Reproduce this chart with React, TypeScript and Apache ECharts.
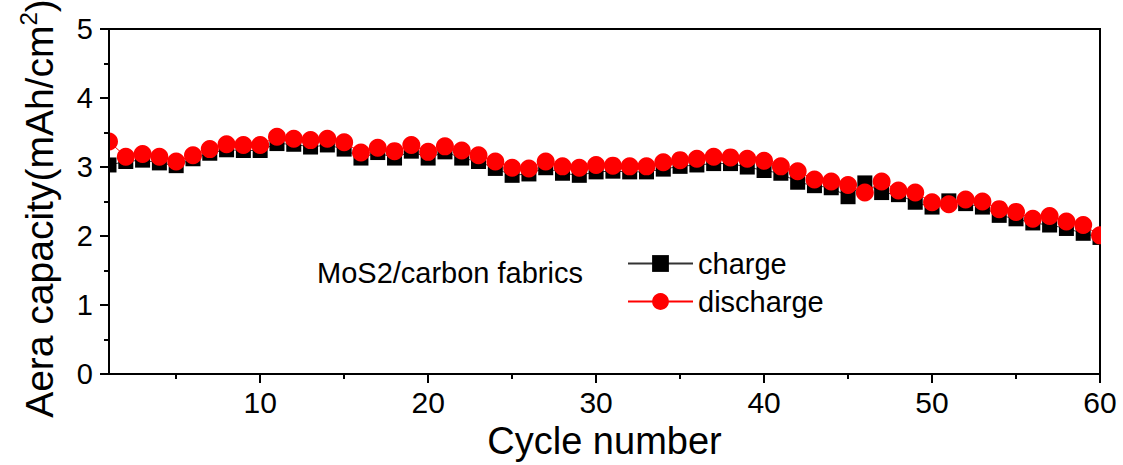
import React, { useEffect, useRef } from "react";
import * as echarts from "echarts";

const cycles = [
  1, 2, 3, 4, 5, 6, 7, 8, 9, 10,
  11, 12, 13, 14, 15, 16, 17, 18, 19, 20,
  21, 22, 23, 24, 25, 26, 27, 28, 29, 30,
  31, 32, 33, 34, 35, 36, 37, 38, 39, 40,
  41, 42, 43, 44, 45, 46, 47, 48, 49, 50,
  51, 52, 53, 54, 55, 56, 57, 58, 59, 60,
];

const charge = [
  3.03, 3.08, 3.10, 3.06, 3.02, 3.12, 3.20, 3.25, 3.24, 3.24,
  3.34, 3.33, 3.29, 3.32, 3.26, 3.13, 3.21, 3.13, 3.23, 3.13,
  3.22, 3.13, 3.08, 2.98, 2.88, 2.90, 2.99, 2.91, 2.88, 2.93,
  2.94, 2.93, 2.93, 2.97, 3.01, 3.03, 3.05, 3.05, 3.00, 2.95,
  2.91, 2.78, 2.73, 2.70, 2.57, 2.77, 2.63, 2.60, 2.49, 2.42,
  2.51, 2.47, 2.42, 2.30, 2.25, 2.19, 2.16, 2.11, 2.04, 1.98,
];

const discharge = [
  3.37, 3.15, 3.19, 3.15, 3.08, 3.17, 3.26, 3.33, 3.32, 3.32,
  3.44, 3.41, 3.39, 3.41, 3.36, 3.21, 3.28, 3.23, 3.32, 3.22,
  3.30, 3.24, 3.17, 3.08, 2.99, 2.98, 3.08, 3.01, 2.99, 3.03,
  3.02, 3.01, 3.01, 3.07, 3.10, 3.12, 3.15, 3.14, 3.12, 3.09,
  3.01, 2.94, 2.82, 2.79, 2.74, 2.63, 2.79, 2.66, 2.63, 2.49,
  2.46, 2.53, 2.50, 2.39, 2.35, 2.25, 2.29, 2.21, 2.16, 2.01,
];

const xMajorTicks = [10, 20, 30, 40, 50, 60];
const xMinorTicks = [5, 15, 25, 35, 45, 55];
const seriesNames = ["charge", "discharge"];
const sampleLabel = "MoS2/carbon fabrics";

const FONT = '"Liberation Sans", Arial, sans-serif';

export default function App() {
  const ref = useRef<HTMLDivElement>(null);

  useEffect(() => {
    const chart = echarts.init(ref.current!, null, { renderer: "svg" });
    const chargeData = cycles.map((c, i) => [c, charge[i]]);
    const dischargeData = cycles.map((c, i) => [c, discharge[i]]);

    chart.setOption({
      animation: false,
      backgroundColor: "#fff",
      textStyle: { fontFamily: FONT },
      grid: {
        left: 109,
        right: 23,
        top: 29,
        bottom: 79,
        show: true,
        borderColor: "#000",
        borderWidth: 2,
        backgroundColor: "transparent",
      },
      legend: {
        orient: "vertical",
        left: 622,
        top: 244,
        itemWidth: 65,
        itemHeight: 21,
        itemGap: 9,
        data: seriesNames,
        textStyle: { fontSize: 29, color: "#000", fontFamily: FONT },
      },
      xAxis: [
        {
          type: "value",
          min: 1,
          max: 60,
          position: "bottom",
          z: 10,
          axisLine: { show: true, lineStyle: { color: "#000", width: 2 } },
          axisTick: {
            show: true,
            customValues: xMajorTicks,
            length: 9,
            lineStyle: { color: "#000", width: 2 },
          },
          axisLabel: {
            customValues: xMajorTicks,
            fontSize: 30,
            color: "#000",
            margin: 13,
            fontFamily: FONT,
          },
          splitLine: { show: false },
          name: "Cycle number",
          nameLocation: "middle",
          nameGap: 40,
          nameTextStyle: { fontSize: 38, color: "#000", fontFamily: FONT },
        },
        {
          type: "value",
          min: 1,
          max: 60,
          position: "bottom",
          z: 10,
          axisLine: { show: false },
          axisTick: {
            show: true,
            customValues: xMinorTicks,
            length: 5,
            lineStyle: { color: "#000", width: 2 },
          },
          axisLabel: { show: false },
          splitLine: { show: false },
        },
      ],
      yAxis: {
        type: "value",
        min: 0,
        max: 5,
        interval: 1,
        z: 10,
        axisLine: { show: true, lineStyle: { color: "#000", width: 2 } },
        axisTick: { show: true, length: 9, lineStyle: { color: "#000", width: 2 } },
        minorTick: {
          show: true,
          splitNumber: 2,
          length: 5,
          lineStyle: { color: "#000", width: 2 },
        },
        axisLabel: { fontSize: 29, color: "#000", margin: 16, fontFamily: FONT },
        splitLine: { show: false },
        minorSplitLine: { show: false },
        name: "{a|Aera capacity(mAh/cm}{s|2}{a|)}",
        nameLocation: "middle",
        nameGap: 46,
        nameRotate: 90,
        nameTextStyle: {
          color: "#000",
          padding: [0, 14, 0, 0],
          rich: {
            a: { fontSize: 39, lineHeight: 47, color: "#000", fontFamily: FONT },
            s: { fontSize: 24, verticalAlign: "top", color: "#000", fontFamily: FONT },
          },
        },
      },
      graphic: [
        {
          type: "rect",
          z: 5,
          silent: true,
          shape: { x: 93, y: 29, width: 15, height: 357 },
          style: { fill: "#fff" },
        },
        {
          type: "rect",
          z: 5,
          silent: true,
          shape: { x: 1101, y: 29, width: 22, height: 357 },
          style: { fill: "#fff" },
        },
        {
          type: "text",
          z: 5,
          x: 317,
          y: 273,
          style: {
            text: sampleLabel,
            fontSize: 29,
            fontFamily: FONT,
            fill: "#000",
            verticalAlign: "middle",
          },
        },
      ],
      series: [
        {
          name: seriesNames[0],
          type: "line",
          xAxisIndex: 0,
          data: chargeData,
          symbol: "rect",
          symbolSize: 15,
          itemStyle: { color: "#000" },
          lineStyle: { color: "#333", width: 1 },
          z: 2,
        },
        {
          name: seriesNames[1],
          type: "line",
          xAxisIndex: 0,
          data: dischargeData,
          symbol: "circle",
          symbolSize: 18,
          itemStyle: { color: "#ff0000" },
          lineStyle: { color: "#ff0000", width: 1 },
          z: 3,
        },
      ],
    });

    return () => chart.dispose();
  }, []);

  return (
    <div
      ref={ref}
      style={{ position: "fixed", left: 0, top: 0, width: 1123, height: 465, background: "#fff" }}
    />
  );
}
